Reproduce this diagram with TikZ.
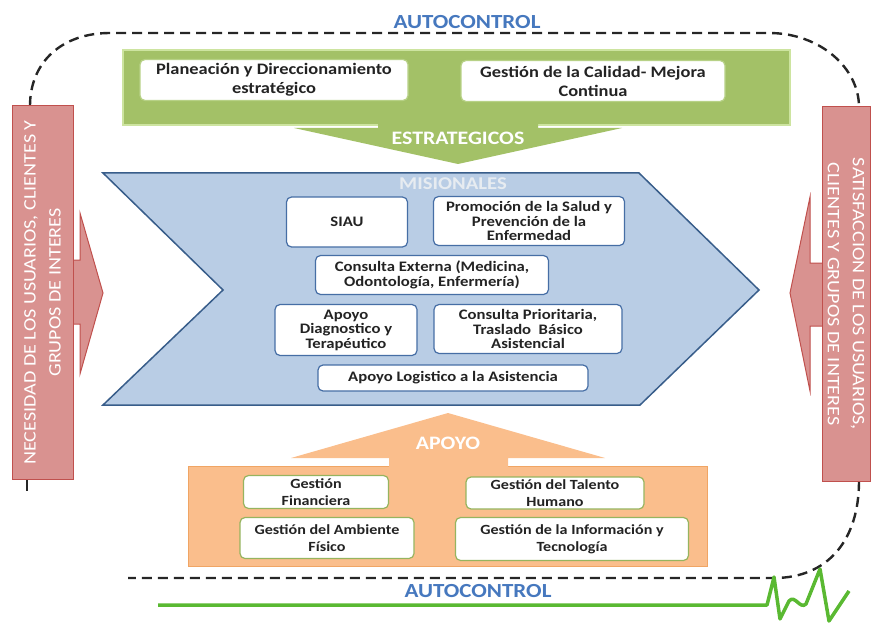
\documentclass[tikz,border=0pt]{standalone}
\usepackage{fontspec}
\setmainfont{Carlito}[FakeStretch=1.15]
\usetikzlibrary{positioning}

\definecolor{verdefondo}{RGB}{163,193,103}
\definecolor{verdeborde}{RGB}{205,228,160}
\definecolor{verdecaja}{RGB}{150,180,95}
\definecolor{azulfondo}{RGB}{185,205,229}
\definecolor{azulborde}{RGB}{56,93,138}
\definecolor{azulcaja}{RGB}{70,110,165}
\definecolor{naranjafondo}{RGB}{250,190,140}
\definecolor{naranjaborde}{RGB}{240,165,100}
\definecolor{rojofondo}{RGB}{217,146,144}
\definecolor{rojoborde}{RGB}{192,80,77}
\definecolor{tituloazul}{RGB}{70,120,190}
\definecolor{lineaverde}{RGB}{90,185,50}
\definecolor{texto}{RGB}{35,35,35}

\begin{document}
\begin{tikzpicture}[
    x=1pt, y=-1pt,
    caja/.style={draw, rounded corners=5pt, fill=white, align=center, text=texto, line width=1.2pt, inner sep=1pt},
    cajaest/.style={caja, draw=verdeborde!60!verdecaja, font=\fontsize{16}{19}\selectfont\bfseries},
    cajamis/.style={caja, draw=azulcaja, font=\fontsize{14.5}{14.5}\selectfont\bfseries},
    cajaapo/.style={caja, draw=verdecaja, font=\fontsize{14}{17}\selectfont\bfseries},
    rotulo/.style={text=white, font=\fontsize{19}{20}\selectfont\bfseries},
    autoctrl/.style={text=tituloazul, font=\fontsize{20}{20}\selectfont\bfseries},
    grupo/.style={draw=rojoborde, fill=rojofondo, line width=1pt, text=white, align=center, font=\fontsize{17.5}{25}\selectfont, minimum width=373pt, minimum height=61pt, inner sep=0pt},
    lazo/.style={draw=black!85, dash pattern=on 10pt off 6pt, line width=2.4pt}
]
    \useasboundingbox (0,0) rectangle (873,623);

    % Lazo de autocontrol
    \draw [lazo] (30,106) .. controls (30,62) and (62,33) .. (110,33) -- (769,33) .. controls (820,33) and (859,68) .. (859,107);
    \draw [lazo] (859,481) .. controls (859,540) and (828,578) .. (774,578) -- (128,578);
    \draw [black!85, line width=2.4pt] (27,479) -- (27,491);
    \draw [lineaverde, line width=3.5pt, line join=round] (158,605) -- (767,605) -- (774,577) -- (780,619) -- (789,601) .. controls (795,594) and (800,610) .. (806,604) -- (820,569) -- (829,621) -- (849,591);

    % Estrategicos
    \fill [verdefondo, draw=verdeborde, line width=1.5pt] (123,50) rectangle (790,125);
    \fill [verdefondo] (378,118) -- (378,128) -- (294,128) -- (458,164) -- (622,128) -- (538,128) -- (538,118) -- cycle;
    \node [cajaest, minimum width=268pt, minimum height=41pt] (plan) at (274,80) {Planeación y Direccionamiento\\estratégico};
    \node [cajaest, minimum width=264pt, minimum height=41pt] (calidad) at (593,81) {Gestión de la Calidad- Mejora\\Continua};
    \node [rotulo] (estr) at (458,138) {ESTRATEGICOS};

    % Misionales
    \filldraw [fill=azulfondo, draw=azulborde, line width=1.5pt] (103,173) -- (639,173) -- (759,290) -- (640,405) -- (103,405) -- (223,290) -- cycle;
    \node [text=white!88!azulborde, font=\fontsize{18}{18}\selectfont\bfseries] (mis) at (453,184) {MISIONALES};
    \node [cajamis, minimum width=121pt, minimum height=50pt] (siau) at (347,222) {SIAU};
    \node [cajamis, minimum width=191pt, minimum height=49pt] (promo) at (529,221) {Promoción de la Salud y\\Prevención de la\\Enfermedad};
    \node [cajamis, minimum width=233pt, minimum height=39pt] (cext) at (432,275) {Consulta Externa (Medicina,\\Odontología, Enfermería)};
    \node [cajamis, minimum width=142pt, minimum height=51pt] (diag) at (346,330) {Apoyo\\Diagnostico y\\Terapéutico};
    \node [cajamis, minimum width=188pt, minimum height=49pt] (prio) at (528,329) {Consulta Prioritaria,\\Traslado\ \ Básico\\Asistencial};
    \node [cajamis, minimum width=270pt, minimum height=26pt] (logis) at (453,378) {Apoyo Logistico a la Asistencia};

    % Apoyo
    \fill [naranjafondo, draw=naranjaborde, line width=1pt] (188,466) rectangle (707,566);
    \fill [naranjafondo] (389,472) -- (389,458) -- (291,458) -- (448,413) -- (605,458) -- (508,458) -- (508,472) -- cycle;
    \node [rotulo] (apoyo) at (448,443) {APOYO};
    \node [cajaapo, minimum width=145pt, minimum height=33pt] (finan) at (316,492) {Gestión\\Financiera};
    \node [cajaapo, minimum width=174pt, minimum height=41pt] (amb) at (327,538) {Gestión del Ambiente\\Físico};
    \node [cajaapo, minimum width=178pt, minimum height=32pt] (talento) at (555,493) {Gestión del Talento\\Humano};
    \node [cajaapo, minimum width=233pt, minimum height=43pt] (info) at (572,539) {Gestión de la Información y\\Tecnología};

    % Usuarios
    \filldraw [fill=rojofondo, draw=rojoborde, line width=1pt] (70,260) -- (80,260) -- (80,213) -- (103,293) -- (80,374) -- (80,324) -- (70,324) -- cycle;
    \filldraw [fill=rojofondo, draw=rojoborde, line width=1pt] (825,263) -- (810,263) -- (810,197) -- (790,293) -- (810,391) -- (810,326) -- (825,326) -- cycle;
    \node [grupo, rotate=90] (necesidad) at (42.5,292.5) {NECESIDAD DE LOS USUARIOS, CLIENTES Y\\GRUPOS DE INTERES};
    \node [grupo, rotate=-90, minimum width=374pt, minimum height=48pt] (satisf) at (846,294) {SATISFACCION DE LOS USUARIOS,\\CLIENTES Y GRUPOS DE INTERES};

    % Autocontrol
    \node [autoctrl] (autoarriba) at (467,22) {AUTOCONTROL};
    \node [autoctrl] (autoabajo) at (478,591) {AUTOCONTROL};

\end{tikzpicture}
\end{document}
